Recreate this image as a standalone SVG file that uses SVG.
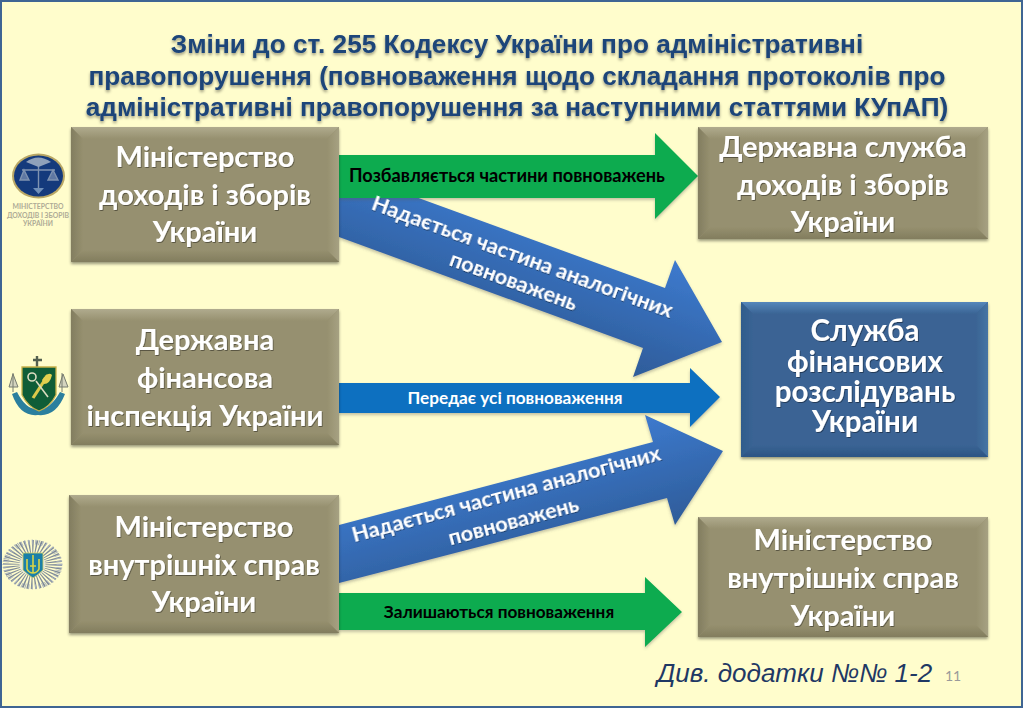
<svg xmlns="http://www.w3.org/2000/svg" width="1023" height="708" viewBox="0 0 1023 708">
<defs>
<linearGradient id="down" gradientUnits="userSpaceOnUse" x1="675" y1="260" x2="633" y2="377"><stop offset="0" stop-color="#3d7ace"/><stop offset="1" stop-color="#2e5c99"/></linearGradient>
<linearGradient id="up" gradientUnits="userSpaceOnUse" x1="645" y1="415" x2="675" y2="525"><stop offset="0" stop-color="#3d7ace"/><stop offset="1" stop-color="#2e5c99"/></linearGradient>
<linearGradient id="gt" x1="0" y1="0" x2="0" y2="1"><stop offset="0" stop-color="#b0ab8e"/><stop offset="1" stop-color="#96906f"/></linearGradient>
<linearGradient id="gb" x1="0" y1="0" x2="0" y2="1"><stop offset="0" stop-color="#96906f"/><stop offset="1" stop-color="#827d5e"/></linearGradient>
<linearGradient id="gl" x1="0" y1="0" x2="1" y2="0"><stop offset="0" stop-color="#827d60"/><stop offset="1" stop-color="#96906f"/></linearGradient>
<linearGradient id="gr" x1="0" y1="0" x2="1" y2="0"><stop offset="0" stop-color="#96906f"/><stop offset="1" stop-color="#a6a182"/></linearGradient>
<linearGradient id="bgt" x1="0" y1="0" x2="0" y2="1"><stop offset="0" stop-color="#5587bb"/><stop offset="1" stop-color="#3a6494"/></linearGradient>
<linearGradient id="bgb" x1="0" y1="0" x2="0" y2="1"><stop offset="0" stop-color="#3a6494"/><stop offset="1" stop-color="#2c5484"/></linearGradient>
<linearGradient id="bgl" x1="0" y1="0" x2="1" y2="0"><stop offset="0" stop-color="#2f5c8c"/><stop offset="1" stop-color="#3a6494"/></linearGradient>
<linearGradient id="bgr" x1="0" y1="0" x2="1" y2="0"><stop offset="0" stop-color="#3a6494"/><stop offset="1" stop-color="#4674a4"/></linearGradient>
<filter id="sh" x="-10%" y="-10%" width="120%" height="125%"><feDropShadow dx="0" dy="2" stdDeviation="1.8" flood-color="#000" flood-opacity=".4"/></filter>
<filter id="ash" x="-5%" y="-10%" width="110%" height="125%"><feDropShadow dx="0" dy="2" stdDeviation="1.5" flood-color="#555" flood-opacity=".35"/></filter>
<filter id="ts" x="-10%" y="-20%" width="120%" height="150%"><feDropShadow dx=".8" dy="1" stdDeviation=".7" flood-color="#000" flood-opacity=".4"/></filter>
<filter id="tt" x="-5%" y="-20%" width="110%" height="160%"><feDropShadow dx="0" dy="2" stdDeviation="1.4" flood-color="#000" flood-opacity=".4"/></filter>
</defs>
<style>
.face{fill:#96906f}
.t{fill:url(#gt)}.b{fill:url(#gb)}.l{fill:url(#gl)}.r{fill:url(#gr)}
.bface{fill:#3a6494}
.bt{fill:url(#bgt)}.bb{fill:url(#bgb)}.bl{fill:url(#bgl)}.br{fill:url(#bgr)}
text{font-family:"Lato","Noto Sans","Liberation Sans",sans-serif;font-weight:700;text-anchor:middle}
.w{fill:#fff;font-size:29px;filter:url(#ts)}
.s{font-size:21.7px}
.title{font-family:"Liberation Sans",Arial,sans-serif;font-size:26.2px;fill:#1c4479;filter:url(#tt)}
.lab{font-size:17.2px}
.node{filter:url(#sh)}
.arrow{filter:url(#ash)}
</style>
<rect x="0" y="0" width="1023" height="708" fill="#3f6593"/>
<rect x="2" y="2" width="1019" height="704" fill="#fffdcc"/>
<g id="title">
<text class="title" x="517" y="53">Зміни до ст. 255 Кодексу України про адміністративні</text>
<text class="title" x="517" y="85">правопорушення (повноваження щодо складання протоколів про</text>
<text class="title" x="517" y="116">адміністративні правопорушення за наступними статтями КУпАП)</text>
</g>
<g id="logo-mdz">
<ellipse cx="38.5" cy="176" rx="26.5" ry="22.5" fill="#b9a765"/>
<ellipse cx="38.5" cy="176" rx="24.5" ry="20.5" fill="#143a7c"/>
<path d="M22 170H55M38.5 162V190M24 170L20 180H29ZM53 170L48 180H58Z" stroke="#7f93b0" stroke-width="1.4" fill="#5f78a3"/>
<path d="M26 162Q38 153 51 162L38.5 167Z" fill="#8fa1ba"/>
<path d="M33 188L38.5 194L44 188Z" fill="#6f8fb8"/>
<g fill="#aeab96" style="font-size:6.8px;font-weight:900">
<text x="38" y="209">МІНІСТЕРСТВО</text>
<text x="38" y="218">ДОХОДІВ І ЗБОРІВ</text>
<text x="38" y="226">УКРАЇНИ</text>
</g>
</g>
<g id="logo-dfi">
<path d="M12 394Q20 417 38 415Q56 417 65 394L60 392Q50 410 38 409Q26 410 17 392Z" fill="#2b7f9e"/>
<path d="M37 356V368M33 360H42" stroke="#54604f" stroke-width="2.4"/>
<path d="M13 373V392M62 373V392M9 387L13 374L18 387ZM59 387L63 374L68 387Z" stroke="#777c70" stroke-width="1" fill="#d4d4bf"/>
<path d="M22 367H56V395Q50 407 39 411Q28 407 22 395Z" fill="#0f5d37" stroke="#c7b14a" stroke-width="1.3"/>
<path d="M33 398L48 375" stroke="#dcc94a" stroke-width="3.2"/>
<circle cx="32" cy="377" r="4" fill="none" stroke="#dcdcc0" stroke-width="1.6"/>
<path d="M36 381L48 397" stroke="#dcdcc0" stroke-width="1.6"/>
<path d="M42 380Q48 371 52 375Q50 384 44 384Z" fill="#e2d14f"/>
</g>
<g id="logo-mvs">
<g transform="translate(32.5 564.5) scale(1 .83)">
<circle r="18" fill="none" stroke="#7f8b99" stroke-width="23" stroke-dasharray="1.2 1.6"/>
<circle r="27" fill="none" stroke="#aab3bd" stroke-width="6" stroke-dasharray="1 2.5"/>
<circle r="13" fill="#e4e6dc"/>
</g>
<path d="M23 553H43V570Q38 575 33 578Q28 575 23 570Z" fill="#1a80a8" stroke="#d6cf66" stroke-width=".8"/>
<path d="M33 555V573M27 559V569Q29 573 33 573Q37 573 39 569V559M30 566H36" fill="none" stroke="#d8d446" stroke-width="1.6"/>
</g>
<g id="connectors">
<path id="arrow-down" class="arrow" d="M339 169L665 288L675 260L722 342L633 377L643 348L339 237Z" fill="url(#down)"/>
<path id="arrow-up" class="arrow" d="M339 525L653 442L645 415L723 451L675 525L667 498L339 583Z" fill="url(#up)"/>
<path id="arrow-green-top" class="arrow" d="M339 155H655V133L698 176L655 219V198H339Z" fill="#0aab50"/>
<path id="arrow-blue-mid" class="arrow" d="M339 383H690V368L720 397L690 427V413H339Z" fill="#0a70c0"/>
<path id="arrow-green-bottom" class="arrow" d="M339 593H645V577L682 612L645 647V630H339Z" fill="#0aab50"/>
</g>
<g id="labels">
<text x="507" y="182" fill="#000" style="font-size:18.2px">Позбавляється частини повноважень</text>
<text class="lab" x="515" y="404" fill="#fff">Передає усі повноваження</text>
<text class="lab" x="499" y="618" fill="#000">Залишаються повноваження</text>
<g transform="translate(520 263.5) rotate(20)"><text class="w s" x="0" y="0">Надається частина аналогічних</text><text class="w s" x="0" y="26">повноважень</text></g>
<g transform="translate(508 501) rotate(-15)"><text class="w s" x="0" y="0">Надається частина аналогічних</text><text class="w s" x="0" y="28">повноважень</text></g>
</g>
<g id="n-mdz"><g class="node"><rect class="face" x="71" y="127" width="268" height="135"/><path class="t" d="M71 127H339L327 139H83Z"/><path class="l" d="M71 127L83 139V250L71 262Z"/><path class="r" d="M339 127L327 139V250L339 262Z"/><path class="b" d="M71 262L83 250H327L339 262Z"/></g><text class="w" x="205" y="167">Міністерство</text><text class="w" x="205" y="205">доходів і зборів</text><text class="w" x="205" y="242">України</text></g>
<g id="n-dfi"><g class="node"><rect class="face" x="71" y="309" width="268" height="136"/><path class="t" d="M71 309H339L327 321H83Z"/><path class="l" d="M71 309L83 321V433L71 445Z"/><path class="r" d="M339 309L327 321V433L339 445Z"/><path class="b" d="M71 445L83 433H327L339 445Z"/></g><text class="w" x="205" y="350">Державна</text><text class="w" x="205" y="388">фінансова</text><text class="w" x="205" y="426">інспекція України</text></g>
<g id="n-mvs"><g class="node"><rect class="face" x="69" y="495" width="270" height="138"/><path class="t" d="M69 495H339L327 507H81Z"/><path class="l" d="M69 495L81 507V621L69 633Z"/><path class="r" d="M339 495L327 507V621L339 633Z"/><path class="b" d="M69 633L81 621H327L339 633Z"/></g><text class="w" x="204" y="537">Міністерство</text><text class="w" x="204" y="575">внутрішніх справ</text><text class="w" x="204" y="612">України</text></g>
<g id="n-dsd"><g class="node"><rect class="face" x="698" y="127" width="290" height="112"/><path class="t" d="M698 127H988L976 139H710Z"/><path class="l" d="M698 127L710 139V227L698 239Z"/><path class="r" d="M988 127L976 139V227L988 239Z"/><path class="b" d="M698 239L710 227H976L988 239Z"/></g><text class="w" x="843" y="157">Державна служба</text><text class="w" x="843" y="195">доходів і зборів</text><text class="w" x="843" y="232">України</text></g>
<g id="n-sfr"><g class="node"><rect class="bface" x="741" y="302" width="247" height="155"/><path class="bt" d="M741 302H988L976 314H753Z"/><path class="bl" d="M741 302L753 314V445L741 457Z"/><path class="br" d="M988 302L976 314V445L988 457Z"/><path class="bb" d="M741 457L753 445H976L988 457Z"/></g><text class="w" x="865" y="341" style="font-size:29.5px">Служба</text><text class="w" x="865" y="372" style="font-size:29.5px">фінансових</text><text class="w" x="865" y="402" style="font-size:29.5px">розслідувань</text><text class="w" x="865" y="432" style="font-size:29.5px">України</text></g>
<g id="n-mvs2"><g class="node"><rect class="face" x="698" y="517" width="290" height="120"/><path class="t" d="M698 517H988L976 529H710Z"/><path class="l" d="M698 517L710 529V625L698 637Z"/><path class="r" d="M988 517L976 529V625L988 637Z"/><path class="b" d="M698 637L710 625H976L988 637Z"/></g><text class="w" x="843" y="550">Міністерство</text><text class="w" x="843" y="588">внутрішніх справ</text><text class="w" x="843" y="626">України</text></g>
<text x="794.5" y="682" style="font-family:'Liberation Sans',sans-serif;font-weight:400;font-style:italic;font-size:26px" fill="#1f3864">Див. додатки №№ 1-2</text>
<text x="953" y="681" style="font-weight:400;font-size:14px" fill="#9a9a9a">11</text>
</svg>
